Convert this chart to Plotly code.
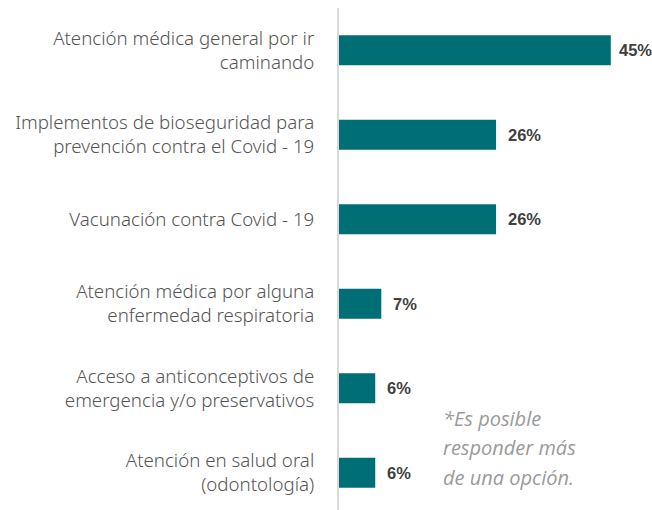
import plotly.graph_objects as go

categories = [
    "Atención médica general por ir<br>caminando",
    "Implementos de bioseguridad para<br>prevención contra el Covid - 19",
    "Vacunación contra Covid - 19",
    "Atención médica por alguna<br>enfermedad respiratoria",
    "Acceso a anticonceptivos de<br>emergencia y/o preservativos",
    "Atención en salud oral<br>(odontología)",
]
values = [45, 26, 26, 7, 6, 6]
value_labels = ["45%", "26%", "26%", "7%", "6%", "6%"]
note_lines = ["*Es posible", "responder más", "de una opción."]

BAR = "#006e75"

W, H = 652, 510
L, T = 339, 8

fig = go.Figure()
fig.add_trace(go.Bar(
    x=values, y=categories, orientation="h",
    marker=dict(color=BAR, line=dict(width=0)),
    width=0.355,
    hoverinfo="skip",
))

vmax = max(values)
for c, v, t in zip(categories, values, value_labels):
    fig.add_annotation(
        x=v, y=c, xref="x", yref="y", text=t, showarrow=False,
        xanchor="left", yanchor="middle", xshift=6 if v == vmax else 10,
        font=dict(family="Liberation Sans", size=16.5, color="#404040", weight="bold"),
    )

for i, line in enumerate(note_lines):
    fig.add_annotation(
        x=(441 - L) / (W - L), y=1 - (418 + i * 29.5 - T) / (H - T),
        xref="paper", yref="paper",
        text=line, showarrow=False, xanchor="left", yanchor="middle",
        font=dict(family="Open Sans", size=20, color="#9a9a9a", style="italic"),
    )

fig.update_layout(
    width=W, height=H,
    margin=dict(l=L, r=0, t=T, b=0, autoexpand=False),
    paper_bgcolor="white", plot_bgcolor="white",
    showlegend=False,
    xaxis=dict(range=[0, (652 - 339) / 6.04], visible=False),
    yaxis=dict(
        type="category", range=[5.44, -0.5],
        showline=True, linecolor="#d9d9d9", linewidth=2,
        showgrid=False, zeroline=False, ticks="",
        ticklabelstandoff=19,
        tickfont=dict(family="Noto Sans", size=18.7, color="#555555", weight=300),
    ),
)

fig.write_html(
    "out.html",
    config={"displayModeBar": False},
    post_script="document.body.style.margin='0';document.body.style.overflow='hidden';",
)
